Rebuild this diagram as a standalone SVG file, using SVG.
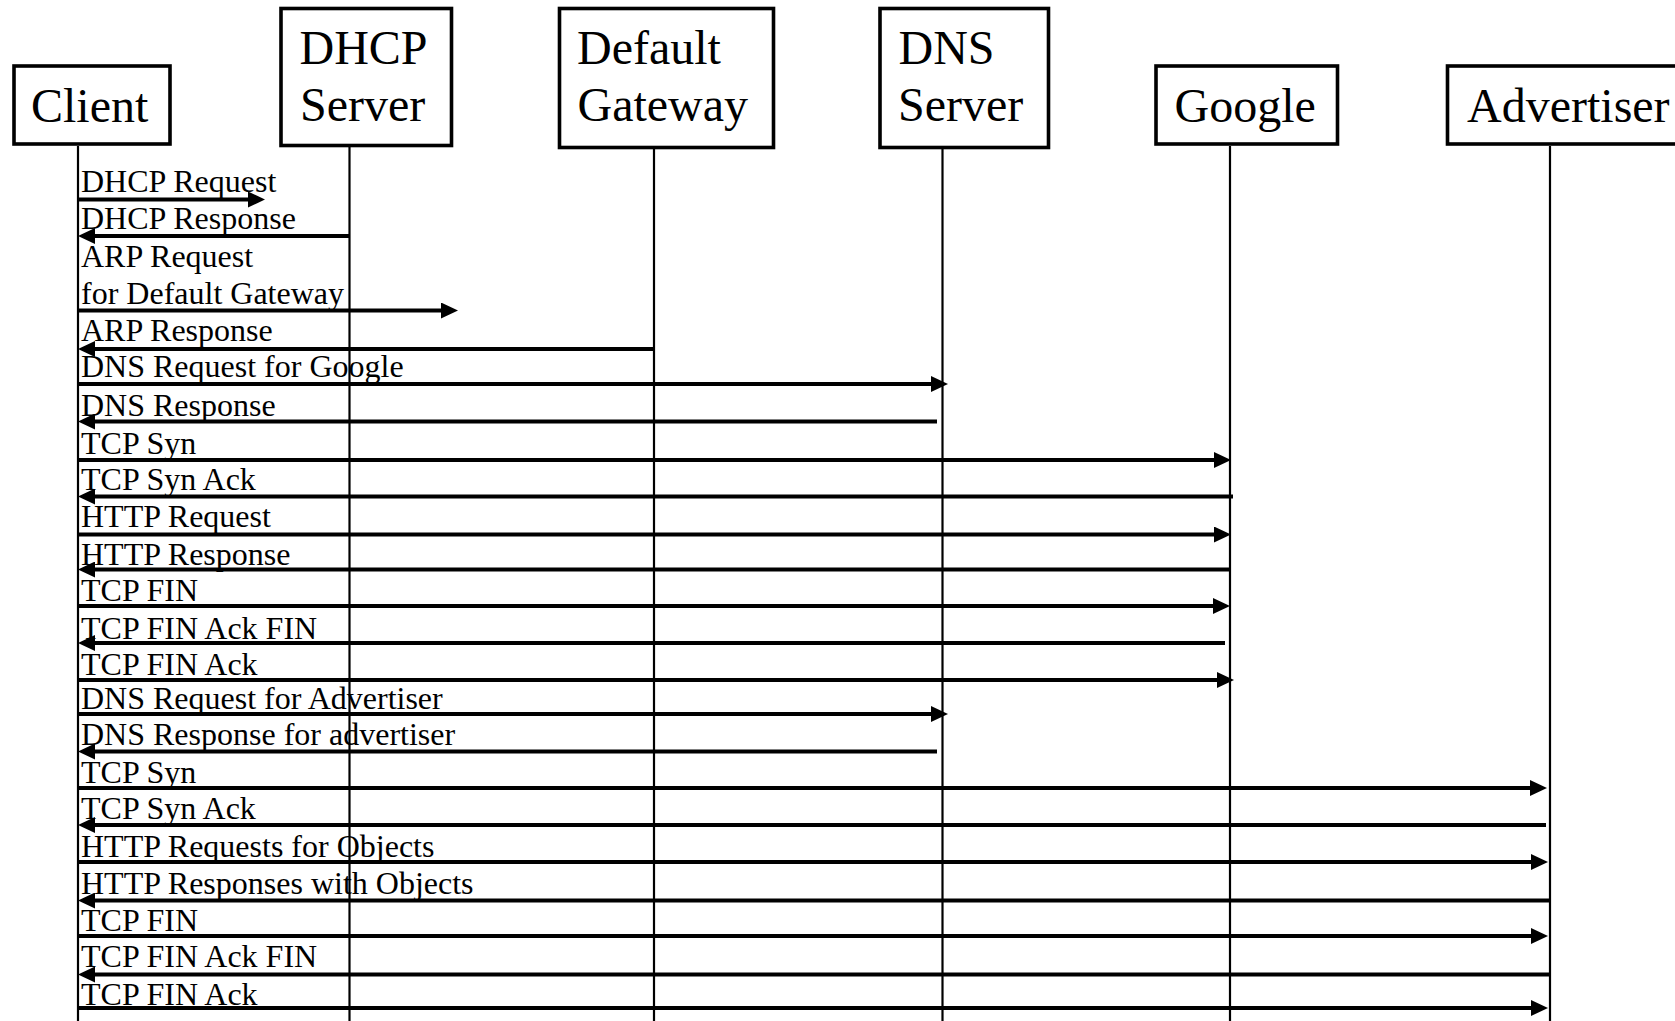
<svg xmlns="http://www.w3.org/2000/svg" width="1675" height="1021" viewBox="0 0 1675 1021">
<style>
.box{fill:#fff;stroke:#000;stroke-width:3.6}
.life{stroke:#000;stroke-width:2.2}
.nl{font-family:"Liberation Serif","Times New Roman",serif;font-size:48px;fill:#000}
.ml{font-family:"Liberation Serif","Times New Roman",serif;font-size:32px;fill:#000}
.msg{stroke:#000;stroke-width:4;fill:none;marker-end:url(#ah)}
</style>
<defs>
<marker id="ah" markerUnits="userSpaceOnUse" markerWidth="17" markerHeight="16" refX="8" refY="8" orient="auto" viewBox="0 0 17 16">
<path d="M0,0 L17,8 L0,16 Z" fill="#000"/>
</marker>
</defs>
<rect width="1675" height="1021" fill="#fff"/>
<g id="node-client">
<line class="life" x1="78" y1="146" x2="78" y2="1021"/>
<rect class="box" x="14" y="66" width="156" height="78"/>
<text class="nl" x="31" y="122">Client</text>
</g>
<g id="node-dhcp">
<line class="life" x1="349.5" y1="147" x2="349.5" y2="1021"/>
<rect class="box" x="281" y="8.5" width="170.5" height="137"/>
<text class="nl" x="299.5" y="64">DHCP</text>
<text class="nl" x="300" y="121">Server</text>
</g>
<g id="node-gateway">
<line class="life" x1="654" y1="148" x2="654" y2="1021"/>
<rect class="box" x="559.5" y="8.5" width="214" height="139"/>
<text class="nl" x="577" y="64">Default</text>
<text class="nl" x="577.5" y="121">Gateway</text>
</g>
<g id="node-dns">
<line class="life" x1="942.5" y1="148" x2="942.5" y2="1021"/>
<rect class="box" x="880" y="8.5" width="168.5" height="139"/>
<text class="nl" x="898.5" y="64">DNS</text>
<text class="nl" x="898" y="121">Server</text>
</g>
<g id="node-google">
<line class="life" x1="1230" y1="146" x2="1230" y2="1021"/>
<rect class="box" x="1156" y="66" width="181.5" height="78"/>
<text class="nl" x="1174.5" y="122">Google</text>
</g>
<g id="node-advertiser">
<line class="life" x1="1550" y1="146" x2="1550" y2="1021"/>
<rect class="box" x="1447.5" y="66" width="260" height="78"/>
<text class="nl" x="1467" y="122">Advertiser</text>
</g>
<g id="connectors">
<g><text class="ml" x="81" y="192">DHCP Request</text><line class="msg" x1="77" y1="199.5" x2="256" y2="199.5"/></g>
<g><text class="ml" x="81" y="229">DHCP Response</text><line class="msg" x1="349.5" y1="236" x2="87" y2="236"/></g>
<g><text class="ml" x="81" y="267">ARP Request</text><text class="ml" x="81" y="304">for Default Gateway</text><line class="msg" x1="77" y1="310.5" x2="449" y2="310.5"/></g>
<g><text class="ml" x="81" y="341">ARP Response</text><line class="msg" x1="654" y1="349" x2="87" y2="349"/></g>
<g><text class="ml" x="81" y="377">DNS Request for Google</text><line class="msg" x1="77" y1="384" x2="939" y2="384"/></g>
<g><text class="ml" x="81" y="416">DNS Response</text><line class="msg" x1="937" y1="421.5" x2="87" y2="421.5"/></g>
<g><text class="ml" x="81" y="454">TCP Syn</text><line class="msg" x1="77" y1="460" x2="1222" y2="460"/></g>
<g><text class="ml" x="81" y="490">TCP Syn Ack</text><line class="msg" x1="1233" y1="496.5" x2="87" y2="496.5"/></g>
<g><text class="ml" x="81" y="527">HTTP Request</text><line class="msg" x1="77" y1="534.5" x2="1222" y2="534.5"/></g>
<g><text class="ml" x="81" y="564.5">HTTP Response</text><line class="msg" x1="1230" y1="569.5" x2="87" y2="569.5"/></g>
<g><text class="ml" x="81" y="601">TCP FIN</text><line class="msg" x1="77" y1="606" x2="1221" y2="606"/></g>
<g><text class="ml" x="81" y="638.5">TCP FIN Ack FIN</text><line class="msg" x1="1225" y1="643" x2="87" y2="643"/></g>
<g><text class="ml" x="81" y="675">TCP FIN Ack</text><line class="msg" x1="77" y1="680" x2="1225" y2="680"/></g>
<g><text class="ml" x="81" y="708.5">DNS Request for Advertiser</text><line class="msg" x1="77" y1="714" x2="939" y2="714"/></g>
<g><text class="ml" x="81" y="745">DNS Response for advertiser</text><line class="msg" x1="937" y1="751.5" x2="87" y2="751.5"/></g>
<g><text class="ml" x="81" y="782.5">TCP Syn</text><line class="msg" x1="77" y1="788" x2="1538" y2="788"/></g>
<g><text class="ml" x="81" y="818.5">TCP Syn Ack</text><line class="msg" x1="1546" y1="825" x2="87" y2="825"/></g>
<g><text class="ml" x="81" y="857">HTTP Requests for Objects</text><line class="msg" x1="77" y1="862" x2="1539" y2="862"/></g>
<g><text class="ml" x="81" y="893.5">HTTP Responses with Objects</text><line class="msg" x1="1549" y1="900.5" x2="87" y2="900.5"/></g>
<g><text class="ml" x="81" y="931">TCP FIN</text><line class="msg" x1="77" y1="936" x2="1539" y2="936"/></g>
<g><text class="ml" x="81" y="967">TCP FIN Ack FIN</text><line class="msg" x1="1549" y1="974.5" x2="87" y2="974.5"/></g>
<g><text class="ml" x="81" y="1004.5">TCP FIN Ack</text><line class="msg" x1="77" y1="1008" x2="1539" y2="1008"/></g>
</g>
</svg>
